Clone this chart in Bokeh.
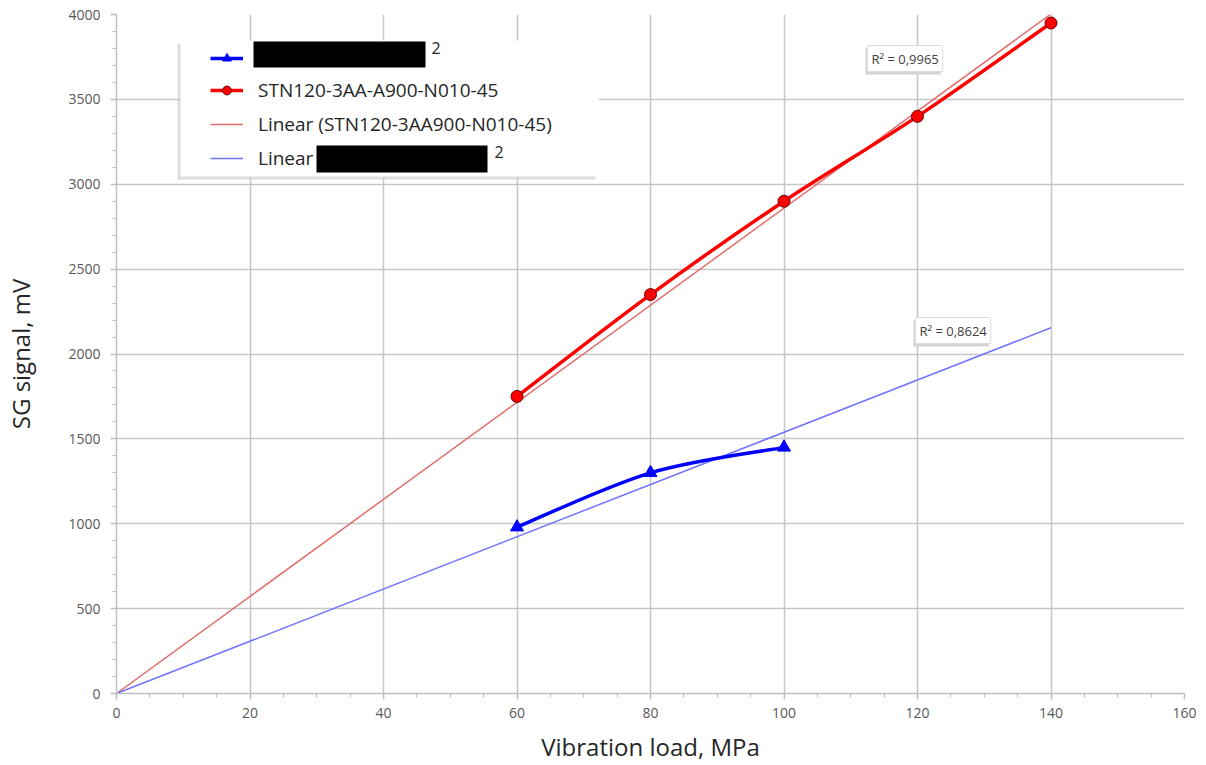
import numpy as np
from bokeh.plotting import figure
from bokeh.models import (Legend, LegendItem, BoxAnnotation, Label, Range1d,
                          FixedTicker, ColumnDataSource)
from bokeh.embed import file_html
from bokeh.resources import INLINE

# ---------------- data ----------------
load_blue = [60, 80, 100]
signal_blue = [980, 1300, 1450]
load_red = [60, 80, 100, 120, 140]
signal_red = [1750, 2350, 2900, 3400, 3950]
trend_x = [0, 140]
r2_red = "R² = 0,9965"
r2_blue = "R² = 0,8624"
x_ticks = [0, 20, 40, 60, 80, 100, 120, 140, 160]
y_ticks = [0, 500, 1000, 1500, 2000, 2500, 3000, 3500, 4000]
label_blue = " "
label_red = "STN120-3AA-A900-N010-45"
label_red_trend = "Linear (STN120-3AA900-N010-45)"
label_blue_trend = "Linear"
x_title = "Vibration load, MPa"
y_title = "SG signal, mV"

# ---------------- layout helpers (pixel -> data for annotations) ----------------
W, H = 1206, 765
FL, FT, FW, FH = 116, 14, 1068, 679
XMAX, YMAX = 160, 4000


def dx(px):
    return (px - FL) / FW * XMAX


def dy(py):
    return (FT + FH - py) / FH * YMAX


def through_origin_slope(xs, ys):
    xs = np.asarray(xs, float)
    ys = np.asarray(ys, float)
    return float((xs * ys).sum() / (xs * xs).sum())


def smooth_segments(xs, ys):
    # Excel-like smoothed line: cubic Bezier segments (Catmull-Rom style)
    P = np.column_stack([xs, ys]).astype(float)
    n = len(P)
    ext = np.vstack([P[0], P, P[-1]])
    seg = dict(x0=[], y0=[], x1=[], y1=[], cx0=[], cy0=[], cx1=[], cy1=[])
    for i in range(n - 1):
        pm, p0, p1, p2 = ext[i], ext[i + 1], ext[i + 2], ext[i + 3]
        c1 = p0 + (p1 - pm) / 6.0
        c2 = p1 - (p2 - p0) / 6.0
        seg["x0"].append(p0[0]); seg["y0"].append(p0[1])
        seg["x1"].append(p1[0]); seg["y1"].append(p1[1])
        seg["cx0"].append(c1[0]); seg["cy0"].append(c1[1])
        seg["cx1"].append(c2[0]); seg["cy1"].append(c2[1])
    return seg


p = figure(width=W, height=H, x_range=Range1d(0, XMAX), y_range=Range1d(0, YMAX),
           output_backend="svg", toolbar_location=None,
           min_border_left=FL, min_border_right=W - FL - FW,
           min_border_top=FT, min_border_bottom=H - FT - FH)
p.outline_line_color = None
p.background_fill_color = "white"
p.border_fill_color = "white"

# axes & grid
p.xaxis.ticker = FixedTicker(ticks=x_ticks, minor_ticks=list(range(0, 161, 5)))
p.yaxis.ticker = FixedTicker(ticks=y_ticks, minor_ticks=list(range(0, 4001, 100)))
for ax in (p.xaxis, p.yaxis):
    ax.axis_line_color = "#bfbfbf"
    ax.axis_line_width = 1.5
    ax.major_tick_line_color = "#bfbfbf"
    ax.major_tick_line_width = 1.5
    ax.minor_tick_line_color = "#bfbfbf"
    ax.minor_tick_line_width = 1.2
    ax.major_tick_in = 0
    ax.major_tick_out = 6
    ax.minor_tick_in = 0
    ax.minor_tick_out = 4
    ax.major_label_text_font = "Open Sans"
    ax.major_label_text_font_size = "14px"
    ax.major_label_text_color = "#595959"
    ax.axis_label_text_font = "Open Sans"
    ax.axis_label_text_font_size = "24px"
    ax.axis_label_text_font_style = "normal"
    ax.axis_label_text_color = "#262626"
p.xaxis.axis_label = x_title
p.yaxis.axis_label = y_title
p.xaxis.major_label_standoff = 8
p.yaxis.major_label_standoff = 10
p.xaxis.axis_label_standoff = 9
p.yaxis.axis_label_standoff = 28

p.xgrid.grid_line_color = "#c6c6c6"
p.ygrid.grid_line_color = "#c6c6c6"
p.xgrid.grid_line_width = 1.5
p.ygrid.grid_line_width = 1.5

# trendlines (linear, intercept 0)
k_red = through_origin_slope(load_red, signal_red)
k_blue = through_origin_slope(load_blue, signal_blue)
tr_red = p.line(trend_x, [k_red * x for x in trend_x], line_color="#e06464",
                line_width=1.5, line_alpha=0.95)
tr_blue = p.line(trend_x, [k_blue * x for x in trend_x], line_color="#6a6aff",
                 line_width=1.5, line_alpha=0.95)

# smoothed data lines
seg_b = ColumnDataSource(smooth_segments(load_blue, signal_blue))
seg_r = ColumnDataSource(smooth_segments(load_red, signal_red))
ln_blue = p.bezier(x0="x0", y0="y0", x1="x1", y1="y1", cx0="cx0", cy0="cy0",
                   cx1="cx1", cy1="cy1", source=seg_b, line_color="#0000ff", line_width=3.5)
ln_red = p.bezier(x0="x0", y0="y0", x1="x1", y1="y1", cx0="cx0", cy0="cy0",
                  cx1="cx1", cy1="cy1", source=seg_r, line_color="#ff0000", line_width=3.5)
mk_blue = p.scatter(load_blue, signal_blue, marker="triangle", size=13,
                    fill_color="#0000ff", line_color="#0000ff")
mk_red = p.scatter(load_red, signal_red, marker="circle", size=12,
                   fill_color="#ff0000", line_color="#6b0000", line_width=1)

# legend background with soft shadow
p.add_layout(BoxAnnotation(left=dx(177), right=dx(595), top=dy(43), bottom=dy(179),
                           fill_color="#cfcfcf", fill_alpha=0.7, line_color=None,
                           level="overlay"))
p.add_layout(BoxAnnotation(left=dx(180), right=dx(598), top=dy(40), bottom=dy(176),
                           fill_color="white", fill_alpha=1, line_color=None,
                           level="overlay"))

legend = Legend(items=[
    LegendItem(label=label_blue, renderers=[ln_blue, mk_blue]),
    LegendItem(label=label_red, renderers=[ln_red, mk_red]),
    LegendItem(label=label_red_trend, renderers=[tr_red]),
    LegendItem(label=label_blue_trend, renderers=[tr_blue]),
], location=(94, 522), orientation="vertical")
legend.background_fill_alpha = 0
legend.border_line_color = None
legend.padding = 8
legend.margin = 0
legend.spacing = 8
legend.glyph_width = 33
legend.glyph_height = 22
legend.label_height = 22
legend.label_standoff = 15
legend.label_text_font = "Open Sans"
legend.label_text_font_size = "19px"
legend.label_text_color = "#262626"
legend.level = "overlay"
p.add_layout(legend)

# redaction boxes in legend
p.add_layout(BoxAnnotation(left=dx(253), right=dx(425), top=dy(41), bottom=dy(67),
                           fill_color="black", fill_alpha=1, line_color=None, level="overlay"))
p.add_layout(BoxAnnotation(left=dx(316), right=dx(487), top=dy(145), bottom=dy(172),
                           fill_color="black", fill_alpha=1, line_color=None, level="overlay"))
for (px, py) in [(431, 41), (494, 145)]:
    p.add_layout(Label(x=dx(px), y=dy(py), text="2", text_font="Open Sans",
                       text_font_size="16px", text_color="#262626",
                       text_baseline="top", text_align="left", level="overlay"))

# R² labels with a soft shadow
for txt, (px, py) in [(r2_red, (867, 45)), (r2_blue, (915, 317))]:
    p.add_layout(Label(x=dx(px), y=dy(py), x_offset=-2, y_offset=-3, text=txt,
                       text_font="Open Sans", text_font_size="13px", text_color="#d4d4d4",
                       text_baseline="top", text_align="left",
                       background_fill_color="#d4d4d4", border_line_color=None,
                       padding=4, level="overlay"))
    p.add_layout(Label(x=dx(px), y=dy(py), text=txt, text_font="Open Sans",
                       text_font_size="13px", text_color="#404040",
                       text_baseline="top", text_align="left",
                       background_fill_color="white", border_line_color="#dcdcdc",
                       padding=4, level="overlay"))

open("out.html", "w").write(file_html(p, INLINE))
